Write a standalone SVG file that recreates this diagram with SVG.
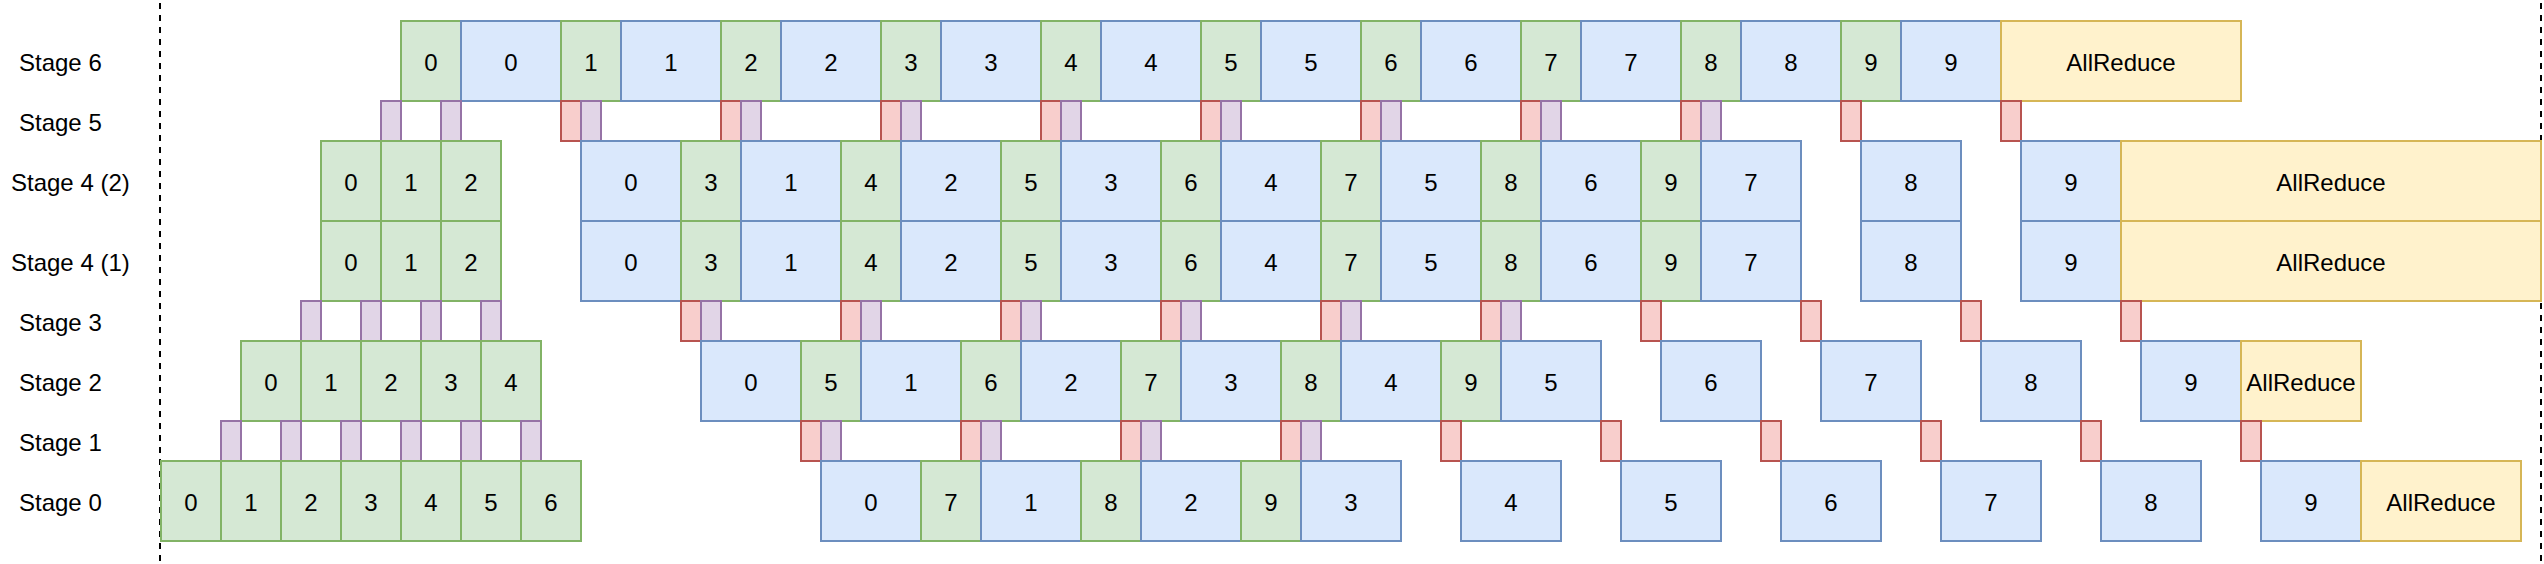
<svg xmlns="http://www.w3.org/2000/svg" width="2544" height="564" viewBox="0 0 2544 564">
<style>
rect{stroke-width:2}
.f rect{fill:#d5e8d4;stroke:#82b366}
.b rect{fill:#dae8fc;stroke:#6c8ebf}
.r rect{fill:#f8cecc;stroke:#b85450}
.p rect{fill:#e1d5e7;stroke:#9673a6}
.a rect{fill:#fff2cc;stroke:#d6b656}
text{font-family:"Liberation Sans",Arial,Helvetica,sans-serif;font-size:24px;fill:#000}
.n text{text-anchor:middle}
.sep{stroke:#000;stroke-width:2;stroke-dasharray:6 6;fill:none}
</style>
<rect x="0" y="0" width="2544" height="564" fill="#ffffff" style="stroke:none"/>
<g id="labels">
<text x="19" y="70.5">Stage 6</text>
<text x="19" y="130.5">Stage 5</text>
<text x="11" y="190.5">Stage 4 (2)</text>
<text x="11" y="270.5">Stage 4 (1)</text>
<text x="19" y="330.5">Stage 3</text>
<text x="19" y="390.5">Stage 2</text>
<text x="19" y="450.5">Stage 1</text>
<text x="19" y="510.5">Stage 0</text>
</g>
<g id="separators">
<line class="sep" x1="160" y1="3" x2="160" y2="564"/>
<line class="sep" x1="2541" y1="3" x2="2541" y2="564"/>
</g>
<g id="connectors"></g>
<g transform="translate(1,1)">
<!-- Stage 6 -->
<g id="s6-f0" class="n f"><rect x="400" y="20" width="60" height="80"/><text x="430" y="69.5">0</text></g>
<g id="s6-b0" class="n b"><rect x="460" y="20" width="100" height="80"/><text x="510" y="69.5">0</text></g>
<g id="s6-f1" class="n f"><rect x="560" y="20" width="60" height="80"/><text x="590" y="69.5">1</text></g>
<g id="s6-b1" class="n b"><rect x="620" y="20" width="100" height="80"/><text x="670" y="69.5">1</text></g>
<g id="s6-f2" class="n f"><rect x="720" y="20" width="60" height="80"/><text x="750" y="69.5">2</text></g>
<g id="s6-b2" class="n b"><rect x="780" y="20" width="100" height="80"/><text x="830" y="69.5">2</text></g>
<g id="s6-f3" class="n f"><rect x="880" y="20" width="60" height="80"/><text x="910" y="69.5">3</text></g>
<g id="s6-b3" class="n b"><rect x="940" y="20" width="100" height="80"/><text x="990" y="69.5">3</text></g>
<g id="s6-f4" class="n f"><rect x="1040" y="20" width="60" height="80"/><text x="1070" y="69.5">4</text></g>
<g id="s6-b4" class="n b"><rect x="1100" y="20" width="100" height="80"/><text x="1150" y="69.5">4</text></g>
<g id="s6-f5" class="n f"><rect x="1200" y="20" width="60" height="80"/><text x="1230" y="69.5">5</text></g>
<g id="s6-b5" class="n b"><rect x="1260" y="20" width="100" height="80"/><text x="1310" y="69.5">5</text></g>
<g id="s6-f6" class="n f"><rect x="1360" y="20" width="60" height="80"/><text x="1390" y="69.5">6</text></g>
<g id="s6-b6" class="n b"><rect x="1420" y="20" width="100" height="80"/><text x="1470" y="69.5">6</text></g>
<g id="s6-f7" class="n f"><rect x="1520" y="20" width="60" height="80"/><text x="1550" y="69.5">7</text></g>
<g id="s6-b7" class="n b"><rect x="1580" y="20" width="100" height="80"/><text x="1630" y="69.5">7</text></g>
<g id="s6-f8" class="n f"><rect x="1680" y="20" width="60" height="80"/><text x="1710" y="69.5">8</text></g>
<g id="s6-b8" class="n b"><rect x="1740" y="20" width="100" height="80"/><text x="1790" y="69.5">8</text></g>
<g id="s6-f9" class="n f"><rect x="1840" y="20" width="60" height="80"/><text x="1870" y="69.5">9</text></g>
<g id="s6-b9" class="n b"><rect x="1900" y="20" width="100" height="80"/><text x="1950" y="69.5">9</text></g>
<g id="s6-ar" class="n a"><rect x="2000" y="20" width="240" height="80"/><text x="2120" y="69.5">AllReduce</text></g>
<!-- Stage 5 -->
<g id="s5-p0" class="p"><rect x="380" y="100" width="20" height="40"/></g>
<g id="s5-p1" class="p"><rect x="440" y="100" width="20" height="40"/></g>
<g id="s5-r0" class="r"><rect x="560" y="100" width="20" height="40"/></g>
<g id="s5-p2" class="p"><rect x="580" y="100" width="20" height="40"/></g>
<g id="s5-r1" class="r"><rect x="720" y="100" width="20" height="40"/></g>
<g id="s5-p3" class="p"><rect x="740" y="100" width="20" height="40"/></g>
<g id="s5-r2" class="r"><rect x="880" y="100" width="20" height="40"/></g>
<g id="s5-p4" class="p"><rect x="900" y="100" width="20" height="40"/></g>
<g id="s5-r3" class="r"><rect x="1040" y="100" width="20" height="40"/></g>
<g id="s5-p5" class="p"><rect x="1060" y="100" width="20" height="40"/></g>
<g id="s5-r4" class="r"><rect x="1200" y="100" width="20" height="40"/></g>
<g id="s5-p6" class="p"><rect x="1220" y="100" width="20" height="40"/></g>
<g id="s5-r5" class="r"><rect x="1360" y="100" width="20" height="40"/></g>
<g id="s5-p7" class="p"><rect x="1380" y="100" width="20" height="40"/></g>
<g id="s5-r6" class="r"><rect x="1520" y="100" width="20" height="40"/></g>
<g id="s5-p8" class="p"><rect x="1540" y="100" width="20" height="40"/></g>
<g id="s5-r7" class="r"><rect x="1680" y="100" width="20" height="40"/></g>
<g id="s5-p9" class="p"><rect x="1700" y="100" width="20" height="40"/></g>
<g id="s5-r8" class="r"><rect x="1840" y="100" width="20" height="40"/></g>
<g id="s5-r9" class="r"><rect x="2000" y="100" width="20" height="40"/></g>
<!-- Stage 4 (2) -->
<g id="s4b-f0" class="n f"><rect x="320" y="140" width="60" height="80"/><text x="350" y="189.5">0</text></g>
<g id="s4b-f1" class="n f"><rect x="380" y="140" width="60" height="80"/><text x="410" y="189.5">1</text></g>
<g id="s4b-f2" class="n f"><rect x="440" y="140" width="60" height="80"/><text x="470" y="189.5">2</text></g>
<g id="s4b-b0" class="n b"><rect x="580" y="140" width="100" height="80"/><text x="630" y="189.5">0</text></g>
<g id="s4b-f3" class="n f"><rect x="680" y="140" width="60" height="80"/><text x="710" y="189.5">3</text></g>
<g id="s4b-b1" class="n b"><rect x="740" y="140" width="100" height="80"/><text x="790" y="189.5">1</text></g>
<g id="s4b-f4" class="n f"><rect x="840" y="140" width="60" height="80"/><text x="870" y="189.5">4</text></g>
<g id="s4b-b2" class="n b"><rect x="900" y="140" width="100" height="80"/><text x="950" y="189.5">2</text></g>
<g id="s4b-f5" class="n f"><rect x="1000" y="140" width="60" height="80"/><text x="1030" y="189.5">5</text></g>
<g id="s4b-b3" class="n b"><rect x="1060" y="140" width="100" height="80"/><text x="1110" y="189.5">3</text></g>
<g id="s4b-f6" class="n f"><rect x="1160" y="140" width="60" height="80"/><text x="1190" y="189.5">6</text></g>
<g id="s4b-b4" class="n b"><rect x="1220" y="140" width="100" height="80"/><text x="1270" y="189.5">4</text></g>
<g id="s4b-f7" class="n f"><rect x="1320" y="140" width="60" height="80"/><text x="1350" y="189.5">7</text></g>
<g id="s4b-b5" class="n b"><rect x="1380" y="140" width="100" height="80"/><text x="1430" y="189.5">5</text></g>
<g id="s4b-f8" class="n f"><rect x="1480" y="140" width="60" height="80"/><text x="1510" y="189.5">8</text></g>
<g id="s4b-b6" class="n b"><rect x="1540" y="140" width="100" height="80"/><text x="1590" y="189.5">6</text></g>
<g id="s4b-f9" class="n f"><rect x="1640" y="140" width="60" height="80"/><text x="1670" y="189.5">9</text></g>
<g id="s4b-b7" class="n b"><rect x="1700" y="140" width="100" height="80"/><text x="1750" y="189.5">7</text></g>
<g id="s4b-b8" class="n b"><rect x="1860" y="140" width="100" height="80"/><text x="1910" y="189.5">8</text></g>
<g id="s4b-b9" class="n b"><rect x="2020" y="140" width="100" height="80"/><text x="2070" y="189.5">9</text></g>
<g id="s4b-ar" class="n a"><rect x="2120" y="140" width="420" height="80"/><text x="2330" y="189.5">AllReduce</text></g>
<!-- Stage 4 (1) -->
<g id="s4a-f0" class="n f"><rect x="320" y="220" width="60" height="80"/><text x="350" y="269.5">0</text></g>
<g id="s4a-f1" class="n f"><rect x="380" y="220" width="60" height="80"/><text x="410" y="269.5">1</text></g>
<g id="s4a-f2" class="n f"><rect x="440" y="220" width="60" height="80"/><text x="470" y="269.5">2</text></g>
<g id="s4a-b0" class="n b"><rect x="580" y="220" width="100" height="80"/><text x="630" y="269.5">0</text></g>
<g id="s4a-f3" class="n f"><rect x="680" y="220" width="60" height="80"/><text x="710" y="269.5">3</text></g>
<g id="s4a-b1" class="n b"><rect x="740" y="220" width="100" height="80"/><text x="790" y="269.5">1</text></g>
<g id="s4a-f4" class="n f"><rect x="840" y="220" width="60" height="80"/><text x="870" y="269.5">4</text></g>
<g id="s4a-b2" class="n b"><rect x="900" y="220" width="100" height="80"/><text x="950" y="269.5">2</text></g>
<g id="s4a-f5" class="n f"><rect x="1000" y="220" width="60" height="80"/><text x="1030" y="269.5">5</text></g>
<g id="s4a-b3" class="n b"><rect x="1060" y="220" width="100" height="80"/><text x="1110" y="269.5">3</text></g>
<g id="s4a-f6" class="n f"><rect x="1160" y="220" width="60" height="80"/><text x="1190" y="269.5">6</text></g>
<g id="s4a-b4" class="n b"><rect x="1220" y="220" width="100" height="80"/><text x="1270" y="269.5">4</text></g>
<g id="s4a-f7" class="n f"><rect x="1320" y="220" width="60" height="80"/><text x="1350" y="269.5">7</text></g>
<g id="s4a-b5" class="n b"><rect x="1380" y="220" width="100" height="80"/><text x="1430" y="269.5">5</text></g>
<g id="s4a-f8" class="n f"><rect x="1480" y="220" width="60" height="80"/><text x="1510" y="269.5">8</text></g>
<g id="s4a-b6" class="n b"><rect x="1540" y="220" width="100" height="80"/><text x="1590" y="269.5">6</text></g>
<g id="s4a-f9" class="n f"><rect x="1640" y="220" width="60" height="80"/><text x="1670" y="269.5">9</text></g>
<g id="s4a-b7" class="n b"><rect x="1700" y="220" width="100" height="80"/><text x="1750" y="269.5">7</text></g>
<g id="s4a-b8" class="n b"><rect x="1860" y="220" width="100" height="80"/><text x="1910" y="269.5">8</text></g>
<g id="s4a-b9" class="n b"><rect x="2020" y="220" width="100" height="80"/><text x="2070" y="269.5">9</text></g>
<g id="s4a-ar" class="n a"><rect x="2120" y="220" width="420" height="80"/><text x="2330" y="269.5">AllReduce</text></g>
<!-- Stage 3 -->
<g id="s3-p0" class="p"><rect x="300" y="300" width="20" height="40"/></g>
<g id="s3-p1" class="p"><rect x="360" y="300" width="20" height="40"/></g>
<g id="s3-p2" class="p"><rect x="420" y="300" width="20" height="40"/></g>
<g id="s3-p3" class="p"><rect x="480" y="300" width="20" height="40"/></g>
<g id="s3-r0" class="r"><rect x="680" y="300" width="20" height="40"/></g>
<g id="s3-p4" class="p"><rect x="700" y="300" width="20" height="40"/></g>
<g id="s3-r1" class="r"><rect x="840" y="300" width="20" height="40"/></g>
<g id="s3-p5" class="p"><rect x="860" y="300" width="20" height="40"/></g>
<g id="s3-r2" class="r"><rect x="1000" y="300" width="20" height="40"/></g>
<g id="s3-p6" class="p"><rect x="1020" y="300" width="20" height="40"/></g>
<g id="s3-r3" class="r"><rect x="1160" y="300" width="20" height="40"/></g>
<g id="s3-p7" class="p"><rect x="1180" y="300" width="20" height="40"/></g>
<g id="s3-r4" class="r"><rect x="1320" y="300" width="20" height="40"/></g>
<g id="s3-p8" class="p"><rect x="1340" y="300" width="20" height="40"/></g>
<g id="s3-r5" class="r"><rect x="1480" y="300" width="20" height="40"/></g>
<g id="s3-p9" class="p"><rect x="1500" y="300" width="20" height="40"/></g>
<g id="s3-r6" class="r"><rect x="1640" y="300" width="20" height="40"/></g>
<g id="s3-r7" class="r"><rect x="1800" y="300" width="20" height="40"/></g>
<g id="s3-r8" class="r"><rect x="1960" y="300" width="20" height="40"/></g>
<g id="s3-r9" class="r"><rect x="2120" y="300" width="20" height="40"/></g>
<!-- Stage 2 -->
<g id="s2-f0" class="n f"><rect x="240" y="340" width="60" height="80"/><text x="270" y="389.5">0</text></g>
<g id="s2-f1" class="n f"><rect x="300" y="340" width="60" height="80"/><text x="330" y="389.5">1</text></g>
<g id="s2-f2" class="n f"><rect x="360" y="340" width="60" height="80"/><text x="390" y="389.5">2</text></g>
<g id="s2-f3" class="n f"><rect x="420" y="340" width="60" height="80"/><text x="450" y="389.5">3</text></g>
<g id="s2-f4" class="n f"><rect x="480" y="340" width="60" height="80"/><text x="510" y="389.5">4</text></g>
<g id="s2-b0" class="n b"><rect x="700" y="340" width="100" height="80"/><text x="750" y="389.5">0</text></g>
<g id="s2-f5" class="n f"><rect x="800" y="340" width="60" height="80"/><text x="830" y="389.5">5</text></g>
<g id="s2-b1" class="n b"><rect x="860" y="340" width="100" height="80"/><text x="910" y="389.5">1</text></g>
<g id="s2-f6" class="n f"><rect x="960" y="340" width="60" height="80"/><text x="990" y="389.5">6</text></g>
<g id="s2-b2" class="n b"><rect x="1020" y="340" width="100" height="80"/><text x="1070" y="389.5">2</text></g>
<g id="s2-f7" class="n f"><rect x="1120" y="340" width="60" height="80"/><text x="1150" y="389.5">7</text></g>
<g id="s2-b3" class="n b"><rect x="1180" y="340" width="100" height="80"/><text x="1230" y="389.5">3</text></g>
<g id="s2-f8" class="n f"><rect x="1280" y="340" width="60" height="80"/><text x="1310" y="389.5">8</text></g>
<g id="s2-b4" class="n b"><rect x="1340" y="340" width="100" height="80"/><text x="1390" y="389.5">4</text></g>
<g id="s2-f9" class="n f"><rect x="1440" y="340" width="60" height="80"/><text x="1470" y="389.5">9</text></g>
<g id="s2-b5" class="n b"><rect x="1500" y="340" width="100" height="80"/><text x="1550" y="389.5">5</text></g>
<g id="s2-b6" class="n b"><rect x="1660" y="340" width="100" height="80"/><text x="1710" y="389.5">6</text></g>
<g id="s2-b7" class="n b"><rect x="1820" y="340" width="100" height="80"/><text x="1870" y="389.5">7</text></g>
<g id="s2-b8" class="n b"><rect x="1980" y="340" width="100" height="80"/><text x="2030" y="389.5">8</text></g>
<g id="s2-b9" class="n b"><rect x="2140" y="340" width="100" height="80"/><text x="2190" y="389.5">9</text></g>
<g id="s2-ar" class="n a"><rect x="2240" y="340" width="120" height="80"/><text x="2300" y="389.5">AllReduce</text></g>
<!-- Stage 1 -->
<g id="s1-p0" class="p"><rect x="220" y="420" width="20" height="40"/></g>
<g id="s1-p1" class="p"><rect x="280" y="420" width="20" height="40"/></g>
<g id="s1-p2" class="p"><rect x="340" y="420" width="20" height="40"/></g>
<g id="s1-p3" class="p"><rect x="400" y="420" width="20" height="40"/></g>
<g id="s1-p4" class="p"><rect x="460" y="420" width="20" height="40"/></g>
<g id="s1-p5" class="p"><rect x="520" y="420" width="20" height="40"/></g>
<g id="s1-r0" class="r"><rect x="800" y="420" width="20" height="40"/></g>
<g id="s1-p6" class="p"><rect x="820" y="420" width="20" height="40"/></g>
<g id="s1-r1" class="r"><rect x="960" y="420" width="20" height="40"/></g>
<g id="s1-p7" class="p"><rect x="980" y="420" width="20" height="40"/></g>
<g id="s1-r2" class="r"><rect x="1120" y="420" width="20" height="40"/></g>
<g id="s1-p8" class="p"><rect x="1140" y="420" width="20" height="40"/></g>
<g id="s1-r3" class="r"><rect x="1280" y="420" width="20" height="40"/></g>
<g id="s1-p9" class="p"><rect x="1300" y="420" width="20" height="40"/></g>
<g id="s1-r4" class="r"><rect x="1440" y="420" width="20" height="40"/></g>
<g id="s1-r5" class="r"><rect x="1600" y="420" width="20" height="40"/></g>
<g id="s1-r6" class="r"><rect x="1760" y="420" width="20" height="40"/></g>
<g id="s1-r7" class="r"><rect x="1920" y="420" width="20" height="40"/></g>
<g id="s1-r8" class="r"><rect x="2080" y="420" width="20" height="40"/></g>
<g id="s1-r9" class="r"><rect x="2240" y="420" width="20" height="40"/></g>
<!-- Stage 0 -->
<g id="s0-f0" class="n f"><rect x="160" y="460" width="60" height="80"/><text x="190" y="509.5">0</text></g>
<g id="s0-f1" class="n f"><rect x="220" y="460" width="60" height="80"/><text x="250" y="509.5">1</text></g>
<g id="s0-f2" class="n f"><rect x="280" y="460" width="60" height="80"/><text x="310" y="509.5">2</text></g>
<g id="s0-f3" class="n f"><rect x="340" y="460" width="60" height="80"/><text x="370" y="509.5">3</text></g>
<g id="s0-f4" class="n f"><rect x="400" y="460" width="60" height="80"/><text x="430" y="509.5">4</text></g>
<g id="s0-f5" class="n f"><rect x="460" y="460" width="60" height="80"/><text x="490" y="509.5">5</text></g>
<g id="s0-f6" class="n f"><rect x="520" y="460" width="60" height="80"/><text x="550" y="509.5">6</text></g>
<g id="s0-b0" class="n b"><rect x="820" y="460" width="100" height="80"/><text x="870" y="509.5">0</text></g>
<g id="s0-f7" class="n f"><rect x="920" y="460" width="60" height="80"/><text x="950" y="509.5">7</text></g>
<g id="s0-b1" class="n b"><rect x="980" y="460" width="100" height="80"/><text x="1030" y="509.5">1</text></g>
<g id="s0-f8" class="n f"><rect x="1080" y="460" width="60" height="80"/><text x="1110" y="509.5">8</text></g>
<g id="s0-b2" class="n b"><rect x="1140" y="460" width="100" height="80"/><text x="1190" y="509.5">2</text></g>
<g id="s0-f9" class="n f"><rect x="1240" y="460" width="60" height="80"/><text x="1270" y="509.5">9</text></g>
<g id="s0-b3" class="n b"><rect x="1300" y="460" width="100" height="80"/><text x="1350" y="509.5">3</text></g>
<g id="s0-b4" class="n b"><rect x="1460" y="460" width="100" height="80"/><text x="1510" y="509.5">4</text></g>
<g id="s0-b5" class="n b"><rect x="1620" y="460" width="100" height="80"/><text x="1670" y="509.5">5</text></g>
<g id="s0-b6" class="n b"><rect x="1780" y="460" width="100" height="80"/><text x="1830" y="509.5">6</text></g>
<g id="s0-b7" class="n b"><rect x="1940" y="460" width="100" height="80"/><text x="1990" y="509.5">7</text></g>
<g id="s0-b8" class="n b"><rect x="2100" y="460" width="100" height="80"/><text x="2150" y="509.5">8</text></g>
<g id="s0-b9" class="n b"><rect x="2260" y="460" width="100" height="80"/><text x="2310" y="509.5">9</text></g>
<g id="s0-ar" class="n a"><rect x="2360" y="460" width="160" height="80"/><text x="2440" y="509.5">AllReduce</text></g>
</g>
</svg>
